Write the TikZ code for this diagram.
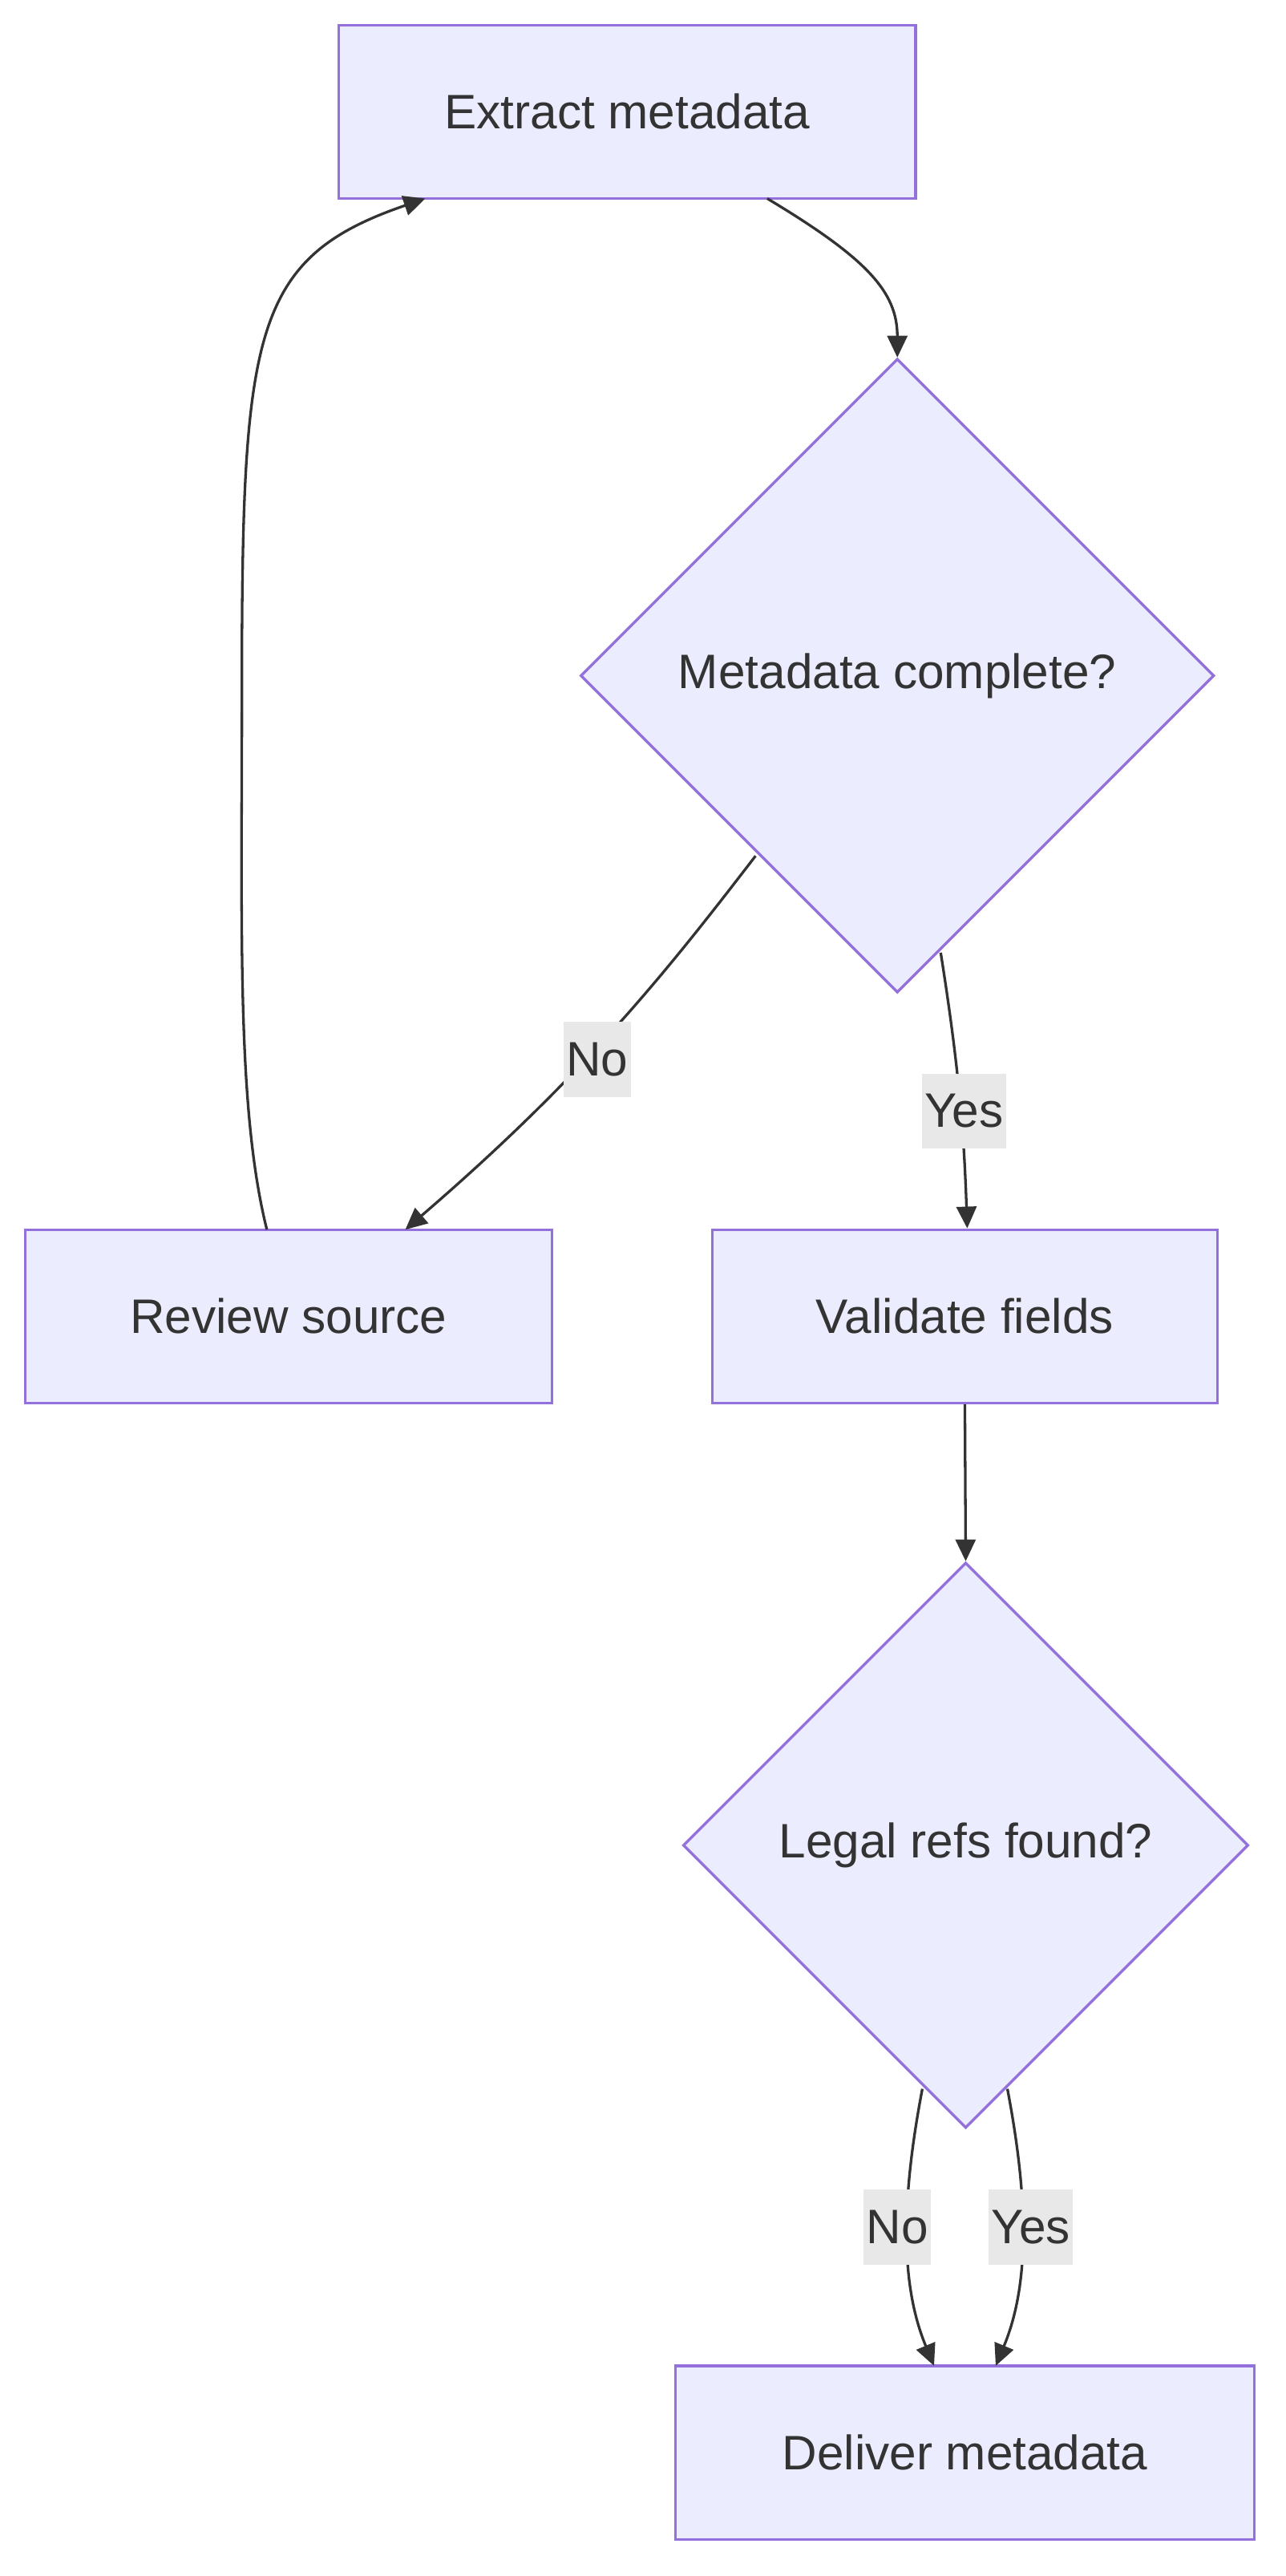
\documentclass[tikz,border=0pt]{standalone}
\usepackage{fontspec}
\setmainfont{Liberation Sans}
\usetikzlibrary{shapes.geometric,arrows.meta}
\definecolor{nfill}{HTML}{ECECFF}
\definecolor{nline}{HTML}{9370DB}
\definecolor{ink}{HTML}{333333}
\definecolor{lbg}{HTML}{E8E8E8}
\begin{document}
\begin{tikzpicture}[x=0.02cm,y=-0.02cm,
  box/.style={draw=nline,fill=nfill,line width=0.9pt,text=ink,font=\fontsize{16.5}{20}\selectfont,minimum height=2.08cm,inner sep=0},
  dia/.style={diamond,aspect=1,draw=nline,fill=nfill,line width=0.9pt,text=ink,font=\fontsize{16.5}{20}\selectfont,inner sep=0},
  edge/.style={draw=ink,line width=0.9pt,-{Triangle[length=0.26cm,width=0.24cm]}},
  lbl/.style={fill=lbg,text=ink,font=\fontsize{16.5}{20}\selectfont,inner sep=1pt,minimum height=0.9cm}]
\useasboundingbox (0,0) rectangle (771,1544);
\node[box,minimum width=6.92cm] (ex) at (376,67) {Extract metadata};
\node[dia,minimum width=7.6cm,minimum height=7.6cm] (mc) at (538,405) {Metadata complete?};
\node[box,minimum width=6.32cm] (rs) at (173,789) {Review source};
\node[box,minimum width=6.06cm] (vf) at (578.5,789) {Validate fields};
\node[dia,minimum width=6.78cm,minimum height=6.78cm] (lr) at (579,1106) {Legal refs found?};
\node[box,minimum width=6.94cm] (dm) at (578.5,1470) {Deliver metadata};
\coordinate (a1) at (460,119);
\coordinate (a2) at (453,513);
\coordinate (a3) at (564,571);
\coordinate (a4) at (553,1252);
\coordinate (a5) at (604,1252);
\coordinate (a6) at (160,737);
\coordinate (b6) at (255,119);
\draw[edge] (a1) .. controls (520,155) and (538,175) .. (mc.north);
\draw[edge] (a2) .. controls (400,582) and (350,645) .. (243,737);
\draw[edge] (a3) .. controls (575,640) and (578,680) .. ([xshift=0.8pt]vf.north);
\draw[edge] (vf.south) -- (lr.north);
\draw[edge] (a4) .. controls (540,1320) and (540,1370) .. (560,1418);
\draw[edge] (a5) .. controls (617,1320) and (617,1370) .. (597,1418);
\draw[edge] (a6) .. controls (142,665) and (145,560) .. (145,420) .. controls (145,200) and (150,155) .. (b6);
\node[lbl] at (358,635) {No};
\node[lbl] at (578,666) {Yes};
\node[lbl] at (538,1335) {No};
\node[lbl] at (618,1335) {Yes};
\end{tikzpicture}
\end{document}
